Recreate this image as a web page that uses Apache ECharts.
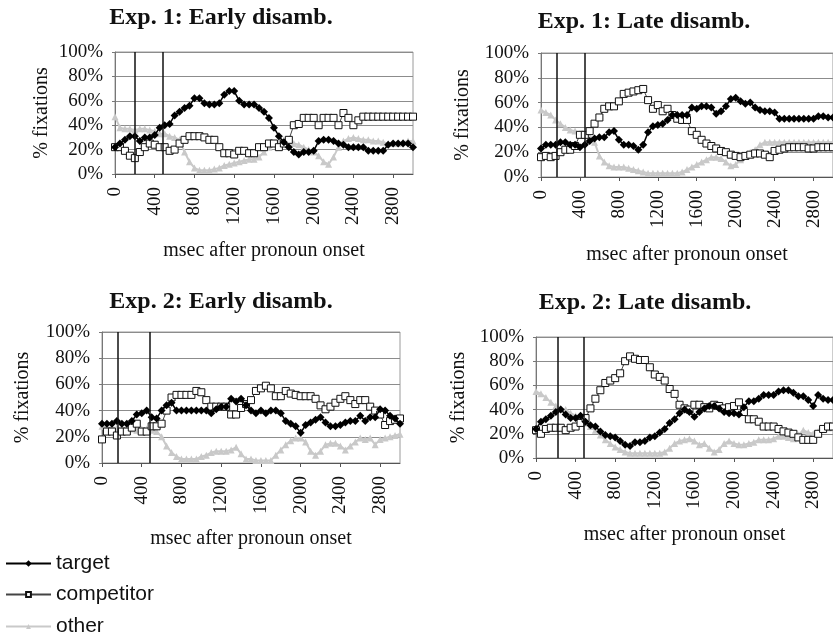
<!DOCTYPE html>
<html>
<head>
<meta charset="utf-8">
<title>Fixations after pronoun onset</title>
<script src="https://cdn.jsdelivr.net/npm/echarts@6/dist/echarts.min.js"></script>
<style>
  html, body { margin: 0; padding: 0; background: #fff; }
  #chart { width: 833px; height: 635px; }
</style>
</head>
<body>
<div id="chart"></div>
<script>
// time bins (msec after pronoun onset)
const msec = [0, 50, 100, 150, 200, 250, 300, 350, 400, 450,
  500, 550, 600, 650, 700, 750, 800, 850, 900, 950,
  1000, 1050, 1100, 1150, 1200, 1250, 1300, 1350, 1400, 1450,
  1500, 1550, 1600, 1650, 1700, 1750, 1800, 1850, 1900, 1950,
  2000, 2050, 2100, 2150, 2200, 2250, 2300, 2350, 2400, 2450,
  2500, 2550, 2600, 2650, 2700, 2750, 2800, 2850, 2900, 2950, 3000]

const seriesNames = ['target', 'competitor', 'other']
const xTicks = [0, 400, 800, 1200, 1600, 2000, 2400, 2800]
const yTicks = [0, 20, 40, 60, 80, 100]

// Exp. 1: Early disamb.
const exp1EarlyTarget = [22, 25, 28, 31, 31, 27, 30, 30, 32, 38,
  40, 41, 48, 51, 54, 56, 62, 62, 58, 57,
  57, 58, 65, 68, 68, 60, 57, 57, 57, 54,
  51, 46, 38, 31, 26, 22, 18, 16, 18, 18,
  19, 27, 28, 28, 27, 25, 24, 22, 22, 22,
  22, 19, 19, 19, 19, 24, 25, 25, 25, 25, 22]
const exp1EarlyCompetitor = [22, 22, 19, 15, 13, 18, 22, 25, 24, 22,
  22, 19, 20, 25, 28, 31, 31, 31, 30, 28,
  28, 22, 17, 17, 16, 19, 19, 17, 17, 22,
  22, 25, 25, 22, 25, 28, 40, 41, 46, 46,
  46, 40, 46, 46, 46, 40, 50, 46, 40, 44,
  47, 47, 47, 47, 47, 47, 47, 47, 47, 47, 47]
const exp1EarlyOther = [47, 38, 37, 37, 36, 37, 37, 36, 35, 33,
  33, 31, 30, 28, 18, 10, 5, 3, 3, 3,
  4, 5, 7, 8, 9, 10, 11, 12, 12, 14,
  18, 22, 25, 27, 28, 27, 25, 24, 22, 20,
  18, 15, 10, 8, 14, 22, 27, 29, 30, 29,
  28, 28, 27, 27, 26, 25, 25, 25, 26, 27, 27]

// Exp. 1: Late disamb.
const exp1LateTarget = [23, 26, 26, 26, 28, 28, 26, 26, 24, 26,
  29, 31, 32, 32, 36, 37, 30, 26, 26, 25,
  22, 26, 36, 41, 42, 43, 46, 50, 50, 50,
  50, 56, 55, 57, 57, 56, 51, 53, 57, 63,
  64, 61, 59, 60, 56, 54, 53, 53, 52, 47,
  47, 47, 47, 47, 47, 47, 47, 49, 49, 48, 48]
const exp1LateCompetitor = [16, 17, 16, 17, 20, 22, 22, 25, 34, 34,
  37, 43, 48, 55, 57, 57, 61, 67, 68, 69,
  70, 71, 62, 55, 58, 53, 55, 50, 47, 46,
  46, 37, 34, 30, 27, 25, 23, 21, 20, 18,
  17, 16, 17, 18, 19, 19, 18, 16, 21, 22,
  23, 24, 24, 24, 24, 23, 23, 24, 24, 24, 24]
const exp1LateOther = [54, 52, 50, 46, 43, 40, 38, 37, 35, 34,
  33, 28, 17, 12, 9, 8, 8, 8, 7, 6,
  5, 4, 3, 3, 3, 3, 3, 3, 3, 4,
  6, 8, 10, 12, 14, 16, 16, 15, 12, 9,
  10, 14, 17, 20, 22, 26, 28, 28, 28, 28,
  28, 28, 28, 28, 28, 28, 28, 28, 28, 28, 28]

// Exp. 2: Early disamb.
const exp2EarlyTarget = [30, 30, 30, 32, 30, 30, 32, 37, 38, 40,
  35, 34, 40, 44, 46, 40, 40, 40, 40, 40,
  40, 40, 38, 41, 43, 43, 49, 47, 49, 44,
  40, 38, 40, 38, 40, 40, 38, 32, 30, 28,
  23, 29, 31, 33, 35, 31, 28, 28, 29, 31,
  32, 32, 36, 32, 35, 35, 41, 40, 36, 34, 30]
const exp2EarlyCompetitor = [18, 24, 24, 21, 24, 24, 27, 30, 24, 24,
  28, 28, 30, 40, 50, 52, 52, 52, 52, 55,
  54, 48, 43, 43, 43, 43, 37, 37, 42, 45,
  48, 55, 57, 59, 57, 51, 51, 55, 53, 52,
  51, 51, 51, 49, 44, 41, 43, 46, 49, 51,
  48, 45, 48, 48, 43, 40, 37, 29, 32, 33, 34]
const exp2EarlyOther = [28, 27, 27, 27, 26, 26, 26, 25, 26, 26,
  25, 24, 20, 13, 8, 5, 3, 3, 3, 3,
  5, 6, 8, 9, 9, 9, 10, 12, 7, 3,
  3, 2, 2, 2, 2, 6, 10, 14, 17, 19,
  19, 16, 9, 6, 9, 14, 15, 15, 13, 10,
  13, 16, 19, 18, 19, 14, 18, 19, 20, 21, 22]

// Exp. 2: Late disamb.
const exp2LateTarget = [24, 30, 32, 35, 38, 40, 36, 33, 33, 35,
  30, 27, 26, 22, 19, 18, 17, 14, 11, 10,
  13, 13, 14, 17, 18, 21, 24, 29, 32, 37,
  40, 38, 34, 38, 41, 43, 43, 41, 38, 37,
  37, 36, 42, 47, 47, 49, 52, 52, 52, 55,
  56, 56, 54, 51, 51, 48, 43, 52, 49, 48, 48]
const exp2LateCompetitor = [23, 20, 24, 25, 25, 25, 23, 25, 26, 29,
  33, 41, 49, 56, 62, 64, 66, 70, 80, 84,
  82, 81, 81, 75, 69, 67, 64, 57, 53, 44,
  41, 40, 44, 44, 42, 41, 44, 43, 41, 42,
  43, 46, 38, 32, 32, 30, 26, 26, 26, 24,
  22, 21, 20, 17, 15, 15, 15, 20, 24, 26, 26]
const exp2LateOther = [55, 53, 50, 46, 43, 41, 40, 37, 35, 32,
  29, 26, 23, 19, 15, 12, 9, 7, 5, 4,
  4, 4, 4, 4, 4, 4, 5, 8, 12, 14,
  15, 16, 14, 11, 12, 8, 5, 7, 12, 14,
  12, 11, 11, 12, 13, 15, 15, 15, 16, 18,
  18, 17, 16, 19, 23, 21, 20, 22, 24, 25, 25]

// disambiguation markers (msec)
const exp1EarlyMarks = [200, 480]
const exp1LateMarks = [165, 445]
const exp2EarlyMarks = [160, 480]
const exp2LateMarks = [220, 480]

const SERIF = '"Liberation Serif", "Times New Roman", serif'
const SANS = '"Liberation Sans", Arial, sans-serif'

const panels = [
  { title: 'Exp. 1: Early disamb.', titleAt: [221, 18], grid: { left: 115, top: 52, width: 298, height: 122 },
    yNameGap: 63, xNameGap: 67, marks: exp1EarlyMarks,
    values: [exp1EarlyTarget, exp1EarlyCompetitor, exp1EarlyOther] },
  { title: 'Exp. 1: Late disamb.', titleAt: [644, 22], grid: { left: 541, top: 53, width: 307, height: 124 },
    yNameGap: 68, xNameGap: 68, marks: exp1LateMarks,
    values: [exp1LateTarget, exp1LateCompetitor, exp1LateOther] },
  { title: 'Exp. 2: Early disamb.', titleAt: [221, 302], grid: { left: 102, top: 332, width: 298, height: 131 },
    yNameGap: 69, xNameGap: 66, marks: exp2EarlyMarks,
    values: [exp2EarlyTarget, exp2EarlyCompetitor, exp2EarlyOther] },
  { title: 'Exp. 2: Late disamb.', titleAt: [645, 303], grid: { left: 536, top: 337, width: 303, height: 121 },
    yNameGap: 67, xNameGap: 67, marks: exp2LateMarks,
    values: [exp2LateTarget, exp2LateCompetitor, exp2LateOther] }
]

const seriesStyle = {
  target: {
    symbol: 'diamond', symbolSize: 8, z: 4,
    itemStyle: { color: '#000' },
    lineStyle: { color: '#000', width: 1.5 }
  },
  competitor: {
    symbol: 'rect', symbolSize: 7, z: 3,
    itemStyle: { color: '#fff', borderColor: '#111', borderWidth: 1 },
    lineStyle: { color: '#444', width: 1 }
  },
  other: {
    symbol: 'triangle', symbolSize: 7, z: 2,
    itemStyle: { color: '#c9c9c9' },
    lineStyle: { color: '#c9c9c9', width: 2 }
  }
}

const toPoints = (vals) => msec.map((t, i) => [t, vals[i]])

const grids = []
const xAxes = []
const yAxes = []
const series = []
const graphics = []

panels.forEach((p, idx) => {
  grids.push(Object.assign({ show: true, borderColor: '#9a9a9a', borderWidth: 1 }, p.grid))

  xAxes.push({
    type: 'value', gridIndex: idx, min: 0, max: 3000, interval: xTicks[1] - xTicks[0],
    name: 'msec after pronoun onset', nameLocation: 'middle', nameGap: p.xNameGap,
    nameTextStyle: { fontFamily: SERIF, fontSize: 20, color: '#111' },
    axisLine: { show: true, onZero: false, lineStyle: { color: '#555', width: 1 } },
    axisTick: { show: true, length: 4, lineStyle: { color: '#555' } },
    axisLabel: { rotate: 90, margin: 13, showMaxLabel: false, fontFamily: SERIF, fontSize: 19, color: '#111',
      formatter: (v) => xTicks.includes(v) ? String(v) : '' },
    splitLine: { show: false }
  })

  yAxes.push({
    type: 'value', gridIndex: idx, min: yTicks[0], max: yTicks[yTicks.length - 1], interval: yTicks[1] - yTicks[0],
    name: '% fixations', nameLocation: 'middle', nameGap: p.yNameGap, nameRotate: 90,
    nameTextStyle: { fontFamily: SERIF, fontSize: 20, color: '#111' },
    axisLine: { show: true, lineStyle: { color: '#777', width: 1 } },
    axisTick: { show: true, length: 3, lineStyle: { color: '#777' } },
    axisLabel: { margin: 12, formatter: '{value}%', fontFamily: SERIF, fontSize: 19, color: '#111' },
    splitLine: { show: true, lineStyle: { color: '#8c8c8c', width: 1 } }
  })

  // other first so target sits on top
  for (let s = seriesNames.length - 1; s >= 0; s--) {
    const name = seriesNames[s]
    const item = Object.assign({
      name: name, type: 'line', xAxisIndex: idx, yAxisIndex: idx,
      showSymbol: true, data: toPoints(p.values[s])
    }, seriesStyle[name])
    if (name === 'target') {
      item.markLine = {
        silent: true, symbol: ['none', 'none'], label: { show: false },
        lineStyle: { color: '#111', width: 1.5, type: 'solid' },
        data: p.marks.map((m) => ({ xAxis: m }))
      }
    }
    series.push(item)
  }

  graphics.push({
    type: 'text', x: p.titleAt[0], y: p.titleAt[1],
    style: {
      text: p.title, font: 'bold 24px ' + SERIF, fill: '#111',
      align: 'center', verticalAlign: 'middle', textAlign: 'center', textVerticalAlign: 'middle'
    }
  })
})

// one legend per row, stacked at bottom left
const legendTops = [553, 584, 616]
const legendIconH = [8, 6, 6]
const legends = seriesNames.map((name, i) => ({
  data: [name], orient: 'vertical', left: 5, top: legendTops[i], padding: 0,
  itemWidth: 45, itemHeight: legendIconH[i], itemGap: 0, selectedMode: false,
  textStyle: { fontFamily: SANS, fontSize: 21, color: '#111' }
}))

const chart = echarts.init(document.getElementById('chart'))
chart.setOption({
  animation: false,
  backgroundColor: '#fff',
  grid: grids,
  xAxis: xAxes,
  yAxis: yAxes,
  series: series,
  graphic: graphics,
  legend: legends
})
</script>
</body>
</html>
